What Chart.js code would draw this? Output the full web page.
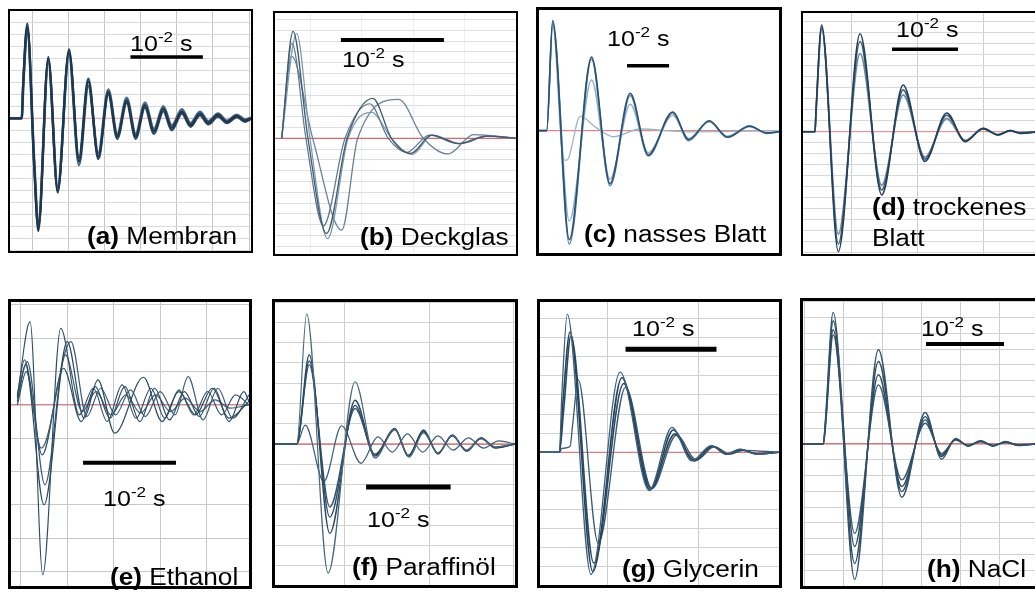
<!DOCTYPE html>
<html>
<head>
<meta charset="utf-8">
<script src="https://cdn.jsdelivr.net/npm/chart.js@4.4.1/dist/chart.umd.min.js"></script>
<style>
  body { margin: 0; width: 1035px; height: 592px; overflow: hidden; background: #fff; position: relative;
         font-family: "Liberation Sans", Arial, sans-serif; }
  .panel { position: absolute; border: solid #000; box-sizing: border-box; background: #fff; }
  .panel canvas { display: block; }
  .lbl { position: absolute; font-size: 23px; line-height: 23px; white-space: nowrap; transform: scaleX(1.14); transform-origin: 0 0; }
  .unit { position: absolute; font-size: 22px; line-height: 22px; white-space: nowrap; transform: scaleX(1.14); transform-origin: 0 0; }
  .unit span { font-size: 15px; position: relative; top: -9px; }
</style>
</head>
<body>
<script>
// Time in ms, amplitude in grid divisions (0 = red baseline)

// (a) Membran
const aT = [1.96, 3.58, 3.8, 4.35, 5.3, 5.87, 7.25, 8.55, 10.11, 11.49, 12.78, 14.16, 15.54, 16.78, 18.08, 19.32, 20.6, 21.85, 23.14, 24.3, 25.7, 26.9, 28.2, 29.35, 30.7, 31.9, 33.3, 34.4, 35.25];
const aY1 = [0, 0, 3.2, 7.9, -3.8, -9.4, 5.1, -6.2, 5.75, -3.6, 3.05, -3.2, 2.2, -1.5, 1.5, -1.5, 1.1, -1.1, 0.8, -0.8, 0.55, -0.55, 0.4, -0.35, 0.3, -0.3, 0.2, -0.2, 0];
const aY2 = [0, 0, 2.8, 7.4, -3.5, -8.9, 4.7, -5.7, 5.3, -3.9, 2.7, -2.9, 2.4, -1.3, 1.7, -1.3, 1.3, -0.9, 1.0, -0.6, 0.75, -0.4, 0.55, -0.25, 0.4, -0.2, 0.3, -0.1, 0.05];
const aY3 = [0, 0, 3.0, 7.6, -4.0, -9.1, 4.9, -6.0, 5.5, -3.3, 3.3, -3.4, 2.0, -1.7, 1.3, -1.7, 0.9, -1.3, 0.6, -1.0, 0.4, -0.7, 0.25, -0.5, 0.15, -0.4, 0.1, -0.3, -0.05];

// (b) Deckglas
const bT1 = [2.25, 3.35, 4.8, 6.6, 8.6, 11.1, 12.9, 14.8, 16.8, 19.5, 22.2, 25.0];
const bY1 = [0, 9.9, 0, -8.8, 0, 3.7, 0, -1.4, 0.3, -0.5, 0.2, 0];
const bT2 = [2.25, 3.25, 4.6, 6.3, 8.4, 10.8, 12.6, 14.4, 16.6, 19.4, 22.0, 25.0];
const bY2 = [0, 8.8, 0, -8.1, 0, 3.2, 0, -1.3, 0.3, -0.5, 0.2, 0];
const bT3 = [2.25, 3.7, 5.0, 6.7, 8.7, 11.0, 12.9, 14.9, 16.9, 19.6, 22.3, 25.0];
const bY3 = [0, 9.7, 0, -9.3, 0, 2.4, 0, -1.5, 0.3, -0.5, 0.2, 0];
const bT4 = [2.25, 3.2, 5.26, 8.08, 9.63, 13.6, 16.0, 18.4, 20.9, 25.0];
const bY4 = [0, 7.6, 0, -8.5, 0, 3.6, 0, -1.45, 0.35, 0];

// (c) nasses Blatt
const cT = [0, 1.83, 3.25, 7.2, 12.5, 16.9, 21.7, 26.0, 31.8, 35.6, 40.5, 44.8, 50.1, 54.2, 57.1];
const cY1 = [0, 0, 10.0, -9.9, 6.7, -4.8, 3.4, -2.2, 1.7, -0.8, 0.9, -0.6, 0.4, -0.2, -0.1];
const cY2 = [0, 0, 9.7, -8.2, 4.6, -4.4, 2.4, -2.0, 1.4, -0.7, 0.8, -0.5, 0.35, -0.2, -0.1];
const cY3 = [0, 0, 9.8, -10.3, 6.5, -5.0, 3.2, -2.3, 1.6, -0.9, 0.85, -0.6, 0.45, -0.25, -0.1];
const cT4 = [0, 1.83, 3.3, 5.4, 6.2, 7.0, 9.8, 13.5, 17.7, 24.0, 35.0, 57.1];
const cY4 = [0, 0, 9.5, -1.5, -2.7, -2.5, 1.3, 0.3, -0.55, 0.15, -0.1, 0];

// (d) trockenes Blatt
const dT = [2.62, 4.44, 4.6, 5.45, 7.97, 11.26, 14.55, 17.8, 21.1, 24.4, 27.2, 29.9, 32.2, 34.0, 35.5, 38.38];
const dY1 = [0, 0, 2.0, 9.7, -10.9, 8.9, -5.75, 4.25, -2.7, 1.7, -0.9, 0.3, -0.3, 0.1, -0.15, 0];
const dY2 = [0, 0, 1.8, 9.3, -9.3, 7.1, -4.85, 3.35, -2.3, 1.2, -0.8, 0.3, -0.25, 0.1, -0.1, 0];
const dY3 = [0, 0, 1.9, 9.5, -10.2, 8.2, -5.3, 3.8, -2.5, 1.5, -0.85, 0.25, -0.3, 0.1, -0.1, 0];

// (e) Ethanol
const eT1 = [4.63, 6.0, 7.37, 9.3, 11.3, 12.8, 14.3, 15.9, 17.4, 19.0, 20.5, 22.0, 23.6, 25.1, 26.6, 28.1, 29.55];
const eY1 = [0.25, 2.5, -5.1, 2.3, -0.3, 0.5, -0.5, 0.6, -0.4, 0.5, -0.4, 0.45, -0.3, 0.4, -0.3, 0.3, 0];
const eT2 = [4.63, 5.5, 7.5, 10.0, 11.8, 13.3, 15.1, 18.2, 20.2, 22.0, 23.8, 25.6, 27.4, 29.55];
const eY2 = [0.1, 1.2, -3.0, 1.9, -0.4, 0.75, -0.85, 0.83, -0.5, 0.4, -0.3, 0.5, -0.4, 0.1];
const eT3 = [4.63, 5.4, 7.2, 10.4, 12.1, 13.6, 15.2, 16.8, 18.4, 20.0, 21.6, 23.0, 24.6, 26.2, 27.8, 29.55];
const eY3 = [0.3, 1.35, -1.3, 1.9, -0.35, 0.5, -0.3, 0.45, -0.35, 0.4, -0.3, 0.85, -0.45, 0.5, -0.4, 0.3];
const eT4 = [4.63, 5.6, 7.3, 9.6, 11.5, 13.0, 14.6, 16.2, 17.8, 19.4, 21.0, 22.6, 24.2, 25.8, 27.4, 29.0, 29.55];
const eY4 = [0, 1.0, -1.5, 1.1, -0.5, 0.55, -0.4, 0.55, -0.5, 0.5, -0.45, 0.4, -0.35, 0.5, -0.5, 0.4, 0.1];
const eT5 = [4.63, 5.7, 7.6, 9.8, 11.6, 13.1, 14.7, 16.3, 17.9, 19.5, 21.1, 22.7, 24.3, 25.9, 27.5, 29.55];
const eY5 = [0.2, 1.3, -2.4, 1.5, -0.2, 0.4, -0.3, 0.3, -0.25, 0.3, -0.2, 0.2, -0.2, 0.15, -0.1, 0];

// (f) Paraffinöl
const fT1 = [1.72, 4.28, 5.47, 8.0, 11.2, 13.55, 15.9, 17.6, 19.3, 21.0, 22.7, 24.4, 26.1, 27.8, 30.12];
const fY1 = [0, 0, 6.4, -6.36, 3.07, -0.7, 0.72, -0.65, 0.55, -0.45, 0.4, -0.3, 0.25, -0.15, 0];
const fT2 = [1.72, 4.28, 5.77, 8.2, 11.2, 13.55, 15.9, 17.5, 19.3, 21.0, 22.7, 24.4, 26.1, 27.8, 30.12];
const fY2 = [0, 0, 4.4, -4.4, 2.16, -0.55, 0.77, -0.62, 0.69, -0.5, 0.45, -0.35, 0.3, -0.2, 0];
const fY3 = [0, 0, 3.9, -3.1, 1.75, -0.5, 0.7, -0.55, 0.6, -0.45, 0.4, -0.3, 0.3, -0.15, 0];
const fY4 = [0, 0, 4.1, -3.6, 1.9, -0.6, 0.75, -0.6, 0.65, -0.45, 0.42, -0.35, 0.28, -0.18, 0];
const fT5 = [1.72, 4.28, 5.3, 7.5, 9.6, 11.9, 13.9, 15.6, 17.4, 19.2, 21.0, 22.8, 24.6, 26.4, 28.2, 30.12];
const fY5 = [0, 0, 0.93, -1.85, 0.9, -0.95, 0.35, -0.4, 0.5, -0.4, 0.4, -0.3, 0.3, -0.2, 0.15, 0];

// (g) Glycerin
const gT1 = [2.6, 4.73, 5.0, 5.6, 8.2, 11.4, 14.6, 17.1, 19.3, 21.4, 23.1, 24.6, 26.4, 28.87];
const gY1 = [0, 0, 3.0, 7.24, -6.4, 4.2, -2.0, 1.3, -0.45, 0.35, -0.1, 0.15, -0.1, 0];
const gT2 = [2.6, 4.73, 5.1, 5.9, 8.4, 11.6, 14.7, 17.25, 19.45, 21.5, 23.1, 24.6, 26.4, 28.87];
const gY2 = [0, 0, 2.5, 6.3, -6.25, 3.9, -1.97, 1.17, -0.4, 0.33, -0.1, 0.15, -0.08, 0];
const gT3 = [2.6, 4.73, 5.2, 6.0, 8.5, 11.8, 14.8, 17.4, 19.6, 21.6, 23.2, 24.7, 26.5, 28.87];
const gY3 = [0, 0, 2.2, 6.1, -5.8, 3.6, -1.9, 0.95, -0.45, 0.3, -0.1, 0.12, -0.08, 0];
const gT4 = [2.6, 4.73, 5.0, 5.9, 6.2, 6.8, 9.0, 12.0, 14.9, 17.6, 19.8, 21.8, 23.4, 25.0, 28.87];
const gY4 = [0, 0, 0.2, 0.3, 1.5, 3.8, -4.76, 3.4, -1.9, 0.9, -0.4, 0.3, -0.1, 0.1, 0];

// (h) NaCl
const hT = [4.83, 7.44, 7.7, 8.7, 11.45, 14.5, 17.5, 20.5, 22.6, 24.4, 26.0, 27.6, 29.2, 30.8, 32.4, 34.96];
const hY1 = [0, 0, 1.5, 8.33, -8.58, 5.96, -3.38, 1.99, -0.97, 0.35, -0.15, 0.2, -0.15, 0.15, -0.1, 0];
const hY2 = [0, 0, 1.2, 7.23, -7.57, 5.22, -3.02, 1.73, -0.8, 0.3, -0.12, 0.18, -0.12, 0.12, -0.08, 0];
const hY3 = [0, 0, 1.3, 7.8, -6.5, 4.38, -2.7, 1.52, -0.7, 0.3, -0.1, 0.15, -0.1, 0.1, -0.08, 0];
const hY4 = [0, 0, 1.0, 6.9, -5.67, 3.74, -2.28, 1.31, -0.6, 0.25, -0.1, 0.15, -0.1, 0.1, -0.05, 0];

// Scale bars (10 ms long) and their heights
const barsT = {
  a: [18.6, 28.6], b: [8.0, 18.0], c: [20.95, 30.95], d: [16.1, 26.1],
  e: [11.7, 21.7], f: [12.5, 22.5], g: [12.0, 22.0], h: [20.6, 30.6],
};
const barsY = { a: 5.1, b: 9.1, c: 5.9, d: 7.5, e: -1.74, f: -2.12, g: 5.4, h: 6.33 };

const pts = (t, y) => t.map((x, i) => ({ x, y: y[i] }));

function trace(t, y, color, width) {
  return {
    data: pts(t, y),
    borderColor: color,
    borderWidth: width,
    pointRadius: 0,
    cubicInterpolationMode: "monotone",
    fill: false,
  };
}

function gridTicks(step) {
  return (axis) => {
    const ticks = [];
    for (let k = Math.ceil(axis.min / step); k * step <= axis.max + 1e-9; k++) {
      ticks.push({ value: k * step });
    }
    axis.ticks = ticks;
  };
}

function addText(cls, html, left, top) {
  const el = document.createElement("div");
  el.className = cls;
  el.innerHTML = html;
  el.style.left = left + "px";
  el.style.top = top + "px";
  document.body.appendChild(el);
}

const UNIT = "10<span>-2</span> s";

const panels = [
  {
    key: "a", box: [8, 9, 245, 244], bw: 2, x: [1.96, 35.25], y: [-11.06, 8.94], xStep: 5,
    gridX: "#c6c6c6", gridY: "#dadada", red: "#eaa8a8", barW: 3.5,
    traces: [trace(aT, aY2, "#4a6a85", 2.6), trace(aT, aY3, "#2b4a64", 2.4), trace(aT, aY1, "#1c374e", 2.2)],
    label: ["<b>(a)</b> Membran", 87, 224.5], unit: [130, 33.4],
  },
  {
    key: "b", box: [273, 11, 245, 245], bw: 2, x: [1.6, 25.0], y: [-10.71, 11.6], xStep: 5,
    gridX: "#efefef", gridY: "#dedede", red: "#d9474a", barW: 4,
    traces: [trace(bT4, bY4, "#6a8399", 1.3), trace(bT3, bY3, "#7f99ae", 1.2), trace(bT2, bY2, "#5c778f", 1.2), trace(bT1, bY1, "#3f5b72", 1.3)],
    label: ["<b>(b)</b> Deckglas", 360, 225.5], unit: [342, 49.4],
  },
  {
    key: "c", box: [536, 7, 246, 249], bw: 3, x: [0, 57.1], y: [-11.12, 10.97], xStep: 0,
    gridX: null, gridY: null, red: "#e06a6a", barW: 3.5,
    traces: [trace(cT4, cY4, "#9cb6ca", 1.3), trace(cT, cY2, "#8fb0c9", 1.5), trace(cT, cY3, "#5e88aa", 1.6), trace(cT, cY1, "#2c5273", 1.6)],
    label: ["<b>(c)</b> nasses Blatt", 584, 222.5], unit: [607, 28.4],
  },
  {
    key: "d", box: [801, 11, 240, 245], bw: 2, x: [2.62, 38.38], y: [-11.12, 10.79], xStep: 10,
    gridX: "#cfcfcf", gridY: "#d8d8d8", red: "#e58a8a", barW: 3.5,
    traces: [trace(dT, dY2, "#6f8ca3", 1.8), trace(dT, dY3, "#3e5c75", 1.6), trace(dT, dY1, "#22405a", 1.6)],
    label: ["<b>(d)</b> trockenes", 872, 195.5], label2: ["Blatt", 872, 226.5], unit: [896, 19.4],
  },
  {
    key: "e", box: [8, 299, 244, 290], bw: 3, x: [3.95, 29.55], y: [-5.44, 3.09], xStep: 5,
    gridX: "#c8c8c8", gridY: "#c8c8c8", red: "#c86a6a", barW: 4,
    traces: [trace(eT5, eY5, "#3a5a72", 1.2), trace(eT4, eY4, "#2e4d66", 1.2), trace(eT3, eY3, "#3d5c74", 1.2),
             trace(eT2, eY2, "#2a4960", 1.2), trace(eT1, eY1, "#2f4e66", 1.1)],
    label: ["<b>(e)</b> Ethanol", 110, 565.5], unit: [103, 488.4],
  },
  {
    key: "f", box: [272, 299, 246, 289], bw: 3, x: [1.72, 30.12], y: [-6.95, 7.0], xStep: 10,
    gridX: "#cfcfcf", gridY: "#d2d2d2", red: "#d43c3c", barW: 5,
    traces: [trace(fT5, fY5, "#3f5d75", 1.2), trace(fT2, fY4, "#2c4b64", 1.3), trace(fT2, fY3, "#35546c", 1.3),
             trace(fT2, fY2, "#2a4860", 1.4), trace(fT1, fY1, "#4a6880", 1.2)],
    label: ["<b>(f)</b> Paraffinöl", 352, 555.5], unit: [367, 509.4],
  },
  {
    key: "g", box: [537, 299, 245, 289], bw: 3, x: [2.6, 28.87], y: [-6.95, 7.87], xStep: 10,
    gridX: "#cdcdcd", gridY: "#d2d2d2", red: "#d46a6a", barW: 5,
    traces: [trace(gT4, gY4, "#3b5a73", 1.3), trace(gT3, gY3, "#2b4a63", 1.6), trace(gT2, gY2, "#244560", 1.6), trace(gT1, gY1, "#40607a", 1.3)],
    label: ["<b>(g)</b> Glycerin", 622, 557.5], unit: [632, 318.4],
  },
  {
    key: "h", box: [800, 298, 241, 291], bw: 3, x: [4.83, 34.96], y: [-9.0, 9.05], xStep: 5,
    gridX: "#cdcdcd", gridY: "#d2d2d2", red: "#d43c3c", barW: 4,
    traces: [trace(hT, hY4, "#3a5972", 1.4), trace(hT, hY3, "#2e4d66", 1.4), trace(hT, hY2, "#2a4962", 1.4), trace(hT, hY1, "#34536b", 1.4)],
    label: ["<b>(h)</b> NaCl", 927, 557.5], unit: [921, 318.4],
  },
];

function makePanel(p) {
  const [left, top, w, h] = p.box;
  const box = document.createElement("div");
  box.className = "panel";
  box.style.left = left + "px";
  box.style.top = top + "px";
  box.style.width = w + "px";
  box.style.height = h + "px";
  box.style.borderWidth = p.bw + "px";
  const canvas = document.createElement("canvas");
  canvas.width = w - 2 * p.bw;
  canvas.height = h - 2 * p.bw;
  box.appendChild(canvas);
  document.body.appendChild(box);

  const bar = {
    data: pts(barsT[p.key], [barsY[p.key], barsY[p.key]]),
    borderColor: "#000",
    borderWidth: p.barW,
    pointRadius: 0,
    borderCapStyle: "butt",
  };
  const zero = {
    data: pts(p.x, [0, 0]),
    borderColor: p.red,
    borderWidth: 1,
    pointRadius: 0,
  };

  new Chart(canvas, {
    type: "line",
    data: { datasets: [bar, ...p.traces.slice().reverse(), zero] },
    options: {
      responsive: false,
      animation: false,
      events: [],
      layout: { padding: 0 },
      plugins: { legend: { display: false }, tooltip: { enabled: false } },
      scales: {
        x: {
          type: "linear", min: p.x[0], max: p.x[1],
          ticks: { display: false },
          border: { display: false },
          grid: { display: !!p.gridX, color: p.gridX || "#fff", drawTicks: false },
          afterBuildTicks: gridTicks(p.xStep || 5),
        },
        y: {
          type: "linear", min: p.y[0], max: p.y[1],
          ticks: { display: false },
          border: { display: false },
          grid: { display: !!p.gridY, color: p.gridY || "#fff", drawTicks: false },
          afterBuildTicks: gridTicks(1),
        },
      },
    },
  });

  addText("unit", UNIT, p.unit[0], p.unit[1]);
  addText("lbl", p.label[0], p.label[1], p.label[2]);
  if (p.label2) addText("lbl", p.label2[0], p.label2[1], p.label2[2]);
}

panels.forEach(makePanel);
</script>
</body>
</html>
